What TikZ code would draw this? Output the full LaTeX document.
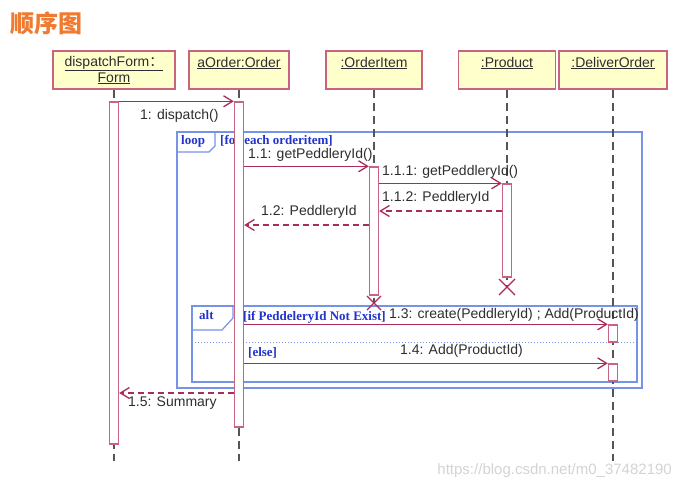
\documentclass[tikz,border=0pt]{standalone}
\usepackage{fontspec}
\setmainfont{Liberation Sans}
\newfontfamily\cjk{Noto Sans CJK SC}
\newfontfamily\guardfont{Liberation Serif}
\usetikzlibrary{arrows.meta}
\definecolor{boxborder}{HTML}{C8647F}
\definecolor{boxfill}{HTML}{FFFFCC}
\definecolor{msg}{HTML}{AA2C5C}
\definecolor{frameblue}{HTML}{7594E8}
\definecolor{guardblue}{HTML}{2233CC}
\definecolor{titleorange}{HTML}{F07A30}
\definecolor{txt}{HTML}{2E2E2E}
\definecolor{lifegray}{HTML}{555555}
\definecolor{wmgray}{HTML}{D4D4D4}
\begin{document}
\begin{tikzpicture}[x=1pt,y=-1pt,
 headbox/.style={draw=boxborder, fill=boxfill, line width=1.5pt, minimum height=38pt, inner sep=0pt},
 headtext/.style={font=\fontsize{14}{16}\selectfont, text=txt, inner sep=0pt, align=center},
 actbar/.style={draw=boxborder, fill=white, line width=1.4pt, minimum width=9pt, inner sep=0pt},
 lifeline/.style={draw=lifegray, line width=1.4pt, dash pattern=on 8pt off 5pt},
 msgline/.style={draw=msg, line width=1.3pt, -{Straight Barb[length=9pt,width=11pt,line width=1.3pt]}},
 retline/.style={msgline, dash pattern=on 6pt off 4pt},
 msglabel/.style={font=\fontsize{14}{16}\selectfont, text=txt, inner sep=0pt, anchor=west},
 frameline/.style={draw=frameblue, line width=1.2pt},
 guard/.style={font=\guardfont\bfseries\fontsize{13}{15}\selectfont, text=guardblue, inner sep=0pt, anchor=west},
 xmark/.style={draw=msg, line width=1.3pt}
]
\fill[white] (0,0) rectangle (692,493);
\useasboundingbox (0,0) rectangle (692,493);

% title
\node[font=\cjk\bfseries\fontsize{24}{26}\selectfont, text=titleorange, anchor=west, inner sep=0pt] (title) at (10,23) {顺序图};

% heads
\node[headbox, minimum width=122pt] (headF) at (114,70) {};
\node[headbox, minimum width=100pt] (headO) at (239,70) {};
\node[headbox, minimum width=96pt] (headI) at (374,70) {};
\node[headbox, minimum width=97pt] (headP) at (507,70) {};
\node[headbox, minimum width=108pt] (headD) at (613,70) {};
\node[headtext] (tF) at (114,70) {\underline{dispatchForm{\cjk ：}}\\\underline{Form}};
\node[headtext] (tO) at (239,63) {\underline{aOrder:Order}};
\node[headtext] (tI) at (374,63) {\underline{:OrderItem}};
\node[headtext] (tP) at (507,63) {\underline{:Product}};
\node[headtext] (tD) at (613,63) {\underline{:DeliverOrder}};

% frames
\draw[frameline] (177,132) rectangle (642,388);
\draw[frameline] (177,152) -- (209,152) -- (215,146) -- (215,132);
\node[guard] (loopL) at (181,141) {loop};
\node[guard] (loopG) at (220,141) {[for each orderitem]};
\draw[frameline] (192,306) rectangle (637,382);
\draw[frameline] (192,330) -- (222,330) -- (233,318) -- (233,306);
\draw[draw=frameblue, line width=1pt, dotted] (192,342) -- (637,342);
\node[guard] (altL) at (199,315) {alt};
\node[guard] (altG1) at (243,317) {[if PeddeleryId Not Exist]};
\node[guard] (altG2) at (248,353) {[else]};

% lifelines
\coordinate (endF) at (114,461);
\coordinate (endO) at (239,461);
\coordinate (endD) at (613,461);
\coordinate (xI) at (374,303);
\coordinate (xP) at (507,287);
\draw[lifeline] (headF.south) -- (endF);
\draw[lifeline] (headO.south) -- (endO);
\draw[lifeline] (headI.south) -- (xI);
\draw[lifeline] (headP.south) -- (xP);
\draw[lifeline] (headD.south) -- (endD);

% activation bars
\node[actbar, minimum height=342pt] (actF) at (114,273) {};
\node[actbar, minimum height=325pt] (actO) at (239,264.5) {};
\node[actbar, minimum height=128pt] (actI) at (374,231) {};
\node[actbar, minimum height=93pt] (actP) at (507,230.5) {};
\node[actbar, minimum height=17pt] (actD1) at (613,333.5) {};
\node[actbar, minimum height=17pt] (actD2) at (613,372.5) {};

% messages
\draw[msgline] (actF.north east) -- (actO.north west);
\draw[msgline] (actO.east |- actI.north) -- (actI.north west);
\draw[msgline] (actI.east |- actP.north) -- (actP.north west);
\coordinate (y112) at (0,211);
\draw[retline] (actP.west |- y112) -- (actI.east |- y112);
\coordinate (y12) at (0,225);
\draw[retline] (actI.west |- y12) -- (actO.east |- y12);
\draw[msgline] (actO.east |- actD1.north) -- (actD1.north west);
\draw[msgline] (actO.east |- actD2.north) -- (actD2.north west);
\coordinate (y15) at (0,393);
\draw[retline] (actO.west |- y15) -- (actF.east |- y15);

% destruction marks
\draw[xmark] ([shift={(-7,-7)}]xI) -- ([shift={(7,7)}]xI);
\draw[xmark] ([shift={(-7,7)}]xI) -- ([shift={(7,-7)}]xI);
\draw[xmark] ([shift={(-8,-8)}]xP) -- ([shift={(8,8)}]xP);
\draw[xmark] ([shift={(-8,8)}]xP) -- ([shift={(8,-8)}]xP);

% labels
\node[msglabel] (l1) at (140,116) {1: dispatch()};
\node[msglabel] (l11) at (248,155) {1.1: getPeddleryId()};
\node[msglabel] (l111) at (382,172) {1.1.1: getPeddleryId()};
\node[msglabel] (l112) at (382,198) {1.1.2: PeddleryId};
\node[msglabel] (l12) at (261,212) {1.2: PeddleryId};
\node[msglabel] (l13) at (389,315) {1.3: create(PeddleryId) ; Add(ProductId)};
\node[msglabel] (l14) at (400,351) {1.4: Add(ProductId)};
\node[msglabel] (l15) at (128,403) {1.5: Summary};

% watermark
\node[font=\fontsize{15}{17}\selectfont, text=wmgray, anchor=east, inner sep=0pt] (wm) at (672,471) {https://blog.csdn.net/m0\_37482190};
\end{tikzpicture}
\end{document}
